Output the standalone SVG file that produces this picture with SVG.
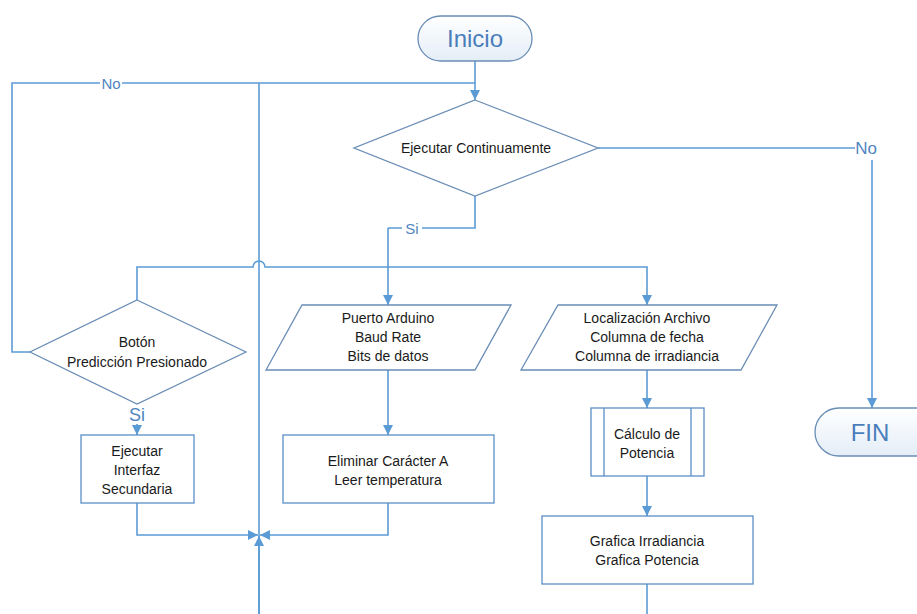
<svg xmlns="http://www.w3.org/2000/svg" width="917" height="614" viewBox="0 0 917 614">
<defs>
<linearGradient id="pill" x1="0" y1="0" x2="0" y2="1">
<stop offset="0" stop-color="#ffffff"/>
<stop offset="1" stop-color="#e4edf7"/>
</linearGradient>
<marker id="arr" viewBox="0 0 10 10" refX="10" refY="5" markerWidth="10" markerHeight="10" markerUnits="userSpaceOnUse" orient="auto">
<path d="M0,0 L10,5 L0,10 Z" fill="#5b9bd5"/>
</marker>
</defs>
<style>
.shape{fill:#ffffff;stroke:#6a8db5;stroke-width:1.3}
.box{fill:#ffffff;stroke:#5b8fc7;stroke-width:1.3}
.term{fill:url(#pill);stroke:#6a8db5;stroke-width:1.3}
.t{font-family:"Liberation Sans",Arial,sans-serif;font-size:14px;fill:#1a1a1a;text-anchor:middle}
.tb{font-family:"Liberation Sans",Arial,sans-serif;font-size:24px;fill:#4a7ebb;text-anchor:middle}
.lbl{font-family:"Liberation Sans",Arial,sans-serif;fill:#4f86c0;text-anchor:middle}
.c{fill:none;stroke:#5b9bd5;stroke-width:1.6}
.ca{fill:none;stroke:#5b9bd5;stroke-width:1.6;marker-end:url(#arr)}
</style>
<rect width="917" height="614" fill="#ffffff"/>

<g id="connectors">
<path class="ca" d="M475,61 V100"/>
<path class="c" d="M475,83 H12 V352 H30"/>
<path class="c" d="M259,83 V614"/>
<path class="c" d="M598,148 H855"/>
<path class="ca" d="M872,160 V408"/>
<path class="c" d="M475,196 V228 H388"/>
<path class="ca" d="M388,228 V305"/>
<path class="ca" d="M137,300 V267 H253 A6,6 0 0 1 265,267 H647 V305"/>
<path class="ca" d="M388,370 V435"/>
<path class="ca" d="M388,503 V535 H260"/>
<path class="ca" d="M137,503 V535 H258"/>
<path class="ca" d="M259,614 V536"/>
<path class="ca" d="M647,370 V408"/>
<path class="ca" d="M647,476 V516"/>
<path class="c" d="M647,584 V614"/>
<path class="ca" d="M137,424 V435"/>
<rect x="100" y="73" width="22" height="20" fill="#ffffff"/>
<text class="lbl" x="111" y="89" font-size="15">No</text>
<rect x="855" y="138" width="24" height="22" fill="#ffffff"/>
<text class="lbl" x="866" y="154" font-size="17">No</text>
<rect x="402" y="219" width="20" height="18" fill="#ffffff"/>
<text class="lbl" x="412" y="234" font-size="15">Si</text>
<text class="lbl" x="137" y="421" font-size="18">Si</text>
</g>

<g id="inicio">
<rect class="term" x="418" y="16" width="114" height="45" rx="22.5"/>
<text class="tb" x="475" y="47">Inicio</text>
</g>

<g id="ejecutar-continuamente">
<polygon class="shape" points="475,100 598,148 475,196 354,148"/>
<text class="t" x="476" y="153">Ejecutar Continuamente</text>
</g>

<g id="fin">
<rect class="term" x="815" y="408" width="130" height="48" rx="24"/>
<text class="tb" x="870" y="441">FIN</text>
</g>

<g id="boton">
<polygon class="shape" points="137,300 246,352 137,404 30,352"/>
<text class="t" x="137" y="347">Botón</text>
<text class="t" x="137" y="367">Predicción Presionado</text>
</g>

<g id="interfaz">
<rect class="box" x="81" y="435" width="113" height="68"/>
<text class="t" x="137" y="456">Ejecutar</text>
<text class="t" x="137" y="475">Interfaz</text>
<text class="t" x="137" y="494">Secundaria</text>
</g>

<g id="puerto">
<polygon class="shape" points="302,305 511,305 475,370 266,370"/>
<text class="t" x="388" y="323">Puerto Arduino</text>
<text class="t" x="388" y="342">Baud Rate</text>
<text class="t" x="388" y="361">Bits de datos</text>
</g>

<g id="eliminar">
<rect class="box" x="283" y="435" width="211" height="68"/>
<text class="t" x="388" y="466">Eliminar Carácter A</text>
<text class="t" x="388" y="485">Leer temperatura</text>
</g>

<g id="localizacion">
<polygon class="shape" points="558,305 777,305 741,370 521,370"/>
<text class="t" x="647" y="323">Localización Archivo</text>
<text class="t" x="647" y="342">Columna de fecha</text>
<text class="t" x="647" y="361">Columna de irradiancia</text>
</g>

<g id="calculo">
<rect class="box" x="591" y="408" width="113" height="68"/>
<line class="box" x1="604" y1="408" x2="604" y2="476"/>
<line class="box" x1="691" y1="408" x2="691" y2="476"/>
<text class="t" x="647" y="439">Cálculo de</text>
<text class="t" x="647" y="458">Potencia</text>
</g>

<g id="grafica">
<rect class="box" x="542" y="516" width="211" height="68"/>
<text class="t" x="647" y="546">Grafica Irradiancia</text>
<text class="t" x="647" y="565">Grafica Potencia</text>
</g>
</svg>
